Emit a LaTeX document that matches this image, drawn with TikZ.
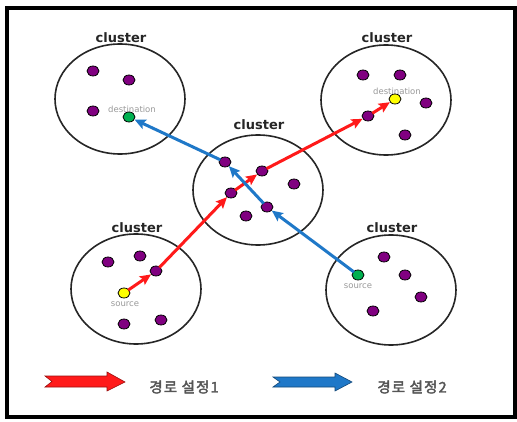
\documentclass[tikz,border=0pt]{standalone}
\usepackage{fontspec}
\usetikzlibrary{shapes.geometric,arrows.meta}
\newfontfamily\djfont{DejaVu Sans}
\newfontfamily\krfont[AutoFakeBold=2.5,LetterSpace=8]{Noto Sans CJK KR}
\definecolor{dotpurple}{HTML}{800080}
\definecolor{dotgreen}{HTML}{00B050}
\definecolor{dotyellow}{HTML}{FFFF00}
\definecolor{rtred}{HTML}{FF1A1A}
\definecolor{rtblue}{HTML}{1F78C8}
\definecolor{txtgray}{HTML}{555555}
\tikzset{
  clusterbox/.style={ellipse,draw=black!85,line width=1.6pt,fill=white,minimum width=130pt,minimum height=110pt,inner sep=0pt},
  clabel/.style={font=\djfont\bfseries\fontsize{13}{14}\selectfont,text=black!85,inner sep=0pt},
  dotnode/.style={ellipse,draw=black,line width=0.8pt,fill=dotpurple,minimum width=12pt,minimum height=10pt,inner sep=0pt},
  srcdot/.style={dotnode,fill=dotyellow},
  dstdot/.style={dotnode,fill=dotgreen},
  small/.style={font=\djfont\fontsize{8.5}{9}\selectfont,text=black!40,inner sep=0pt},
  redroute/.style={draw=rtred,line width=3pt,-{Stealth[length=11pt,width=10pt,inset=2pt]},shorten <=-1pt},
  blueroute/.style={draw=rtblue,line width=3pt,-{Stealth[length=11pt,width=10pt,inset=2pt]},shorten <=-1pt},
  legtext/.style={font=\krfont\bfseries\fontsize{14.5}{15}\selectfont,text=txtgray,inner sep=0pt}
}
\begin{document}
\begin{tikzpicture}[x=1pt,y=-1pt]
\useasboundingbox (0,0) rectangle (517,422);
\fill[white] (0,0) rectangle (517,422);
\draw[line width=3.5pt,black] (7,8) rectangle (515,417);

% clusters
\node[clusterbox] (ctl) at (120,99) {};
\node[clusterbox] (ctr) at (386,100) {};
\node[clusterbox] (cc) at (258,190) {};
\node[clusterbox] (cbl) at (136,289) {};
\node[clusterbox] (cbr) at (391,290) {};

\node[clabel] (ltl) at (121,38) {cluster};
\node[clabel] (ltr) at (387,38) {cluster};
\node[clabel] (lc) at (259,125) {cluster};
\node[clabel] (lbl) at (137,228) {cluster};
\node[clabel] (lbr) at (392,228) {cluster};

% small labels
\node[small] (dtl) at (132,109) {destination};
\node[small] (dtr) at (397,91) {destination};
\node[small] (sbl) at (125,304) {source};
\node[small] (sbr) at (358,286) {source};

% top-left dots
\node[dotnode] (a1) at (93,71) {};
\node[dotnode] (a2) at (129,80) {};
\node[dotnode] (a3) at (93,111) {};
\node[dstdot] (ad) at (129,117) {};
% top-right dots
\node[dotnode] (b1) at (363,75) {};
\node[dotnode] (b2) at (400,75) {};
\node[dotnode] (b3) at (426,103) {};
\node[dotnode] (b4) at (368,116) {};
\node[dotnode] (b5) at (405,135) {};
\node[srcdot] (bd) at (395,99) {};
% center dots
\node[dotnode] (c1) at (225,162) {};
\node[dotnode] (c2) at (262,171) {};
\node[dotnode] (c3) at (294,184) {};
\node[dotnode] (c4) at (231,193) {};
\node[dotnode] (c5) at (267,207) {};
\node[dotnode] (c6) at (246,216) {};
% bottom-left dots
\node[dotnode] (d1) at (108,262) {};
\node[dotnode] (d2) at (140,256) {};
\node[dotnode] (d3) at (156,271) {};
\node[dotnode] (d4) at (124,324) {};
\node[dotnode] (d5) at (161,320) {};
\node[srcdot] (ds) at (124,293) {};
% bottom-right dots
\node[dotnode] (e1) at (384,257) {};
\node[dotnode] (e2) at (405,275) {};
\node[dotnode] (e3) at (421,297) {};
\node[dotnode] (e4) at (373,311) {};
\node[dstdot] (es) at (358,275) {};

% routes
\draw[redroute] (ds) -- (d3);
\draw[redroute] (d3) -- (c4);
\draw[redroute] (c4) -- (c2);
\draw[redroute] (c2) -- (b4);
\draw[redroute] (b4) -- (bd);
\draw[blueroute] (es) -- (c5);
\draw[blueroute] (c5) -- (c1);
\draw[blueroute] (c1) -- (ad);

% legend
\draw[fill=rtred,draw=rtred!60!black,line width=0.6pt]
  (45,376) -- (107,376) -- (107,372) -- (125,382) -- (107,391) -- (107,387) -- (45,387) -- (52,381.5) -- cycle;
\draw[fill=rtblue,draw=rtblue!60!black,line width=0.6pt]
  (273,377) -- (335,377) -- (335,373) -- (352,382) -- (335,391) -- (335,387) -- (273,387) -- (280,382) -- cycle;
\node[legtext] (t1) at (184,387) {경로 설정1};
\node[legtext] (t2) at (412,387) {경로 설정2};
\end{tikzpicture}
\end{document}
